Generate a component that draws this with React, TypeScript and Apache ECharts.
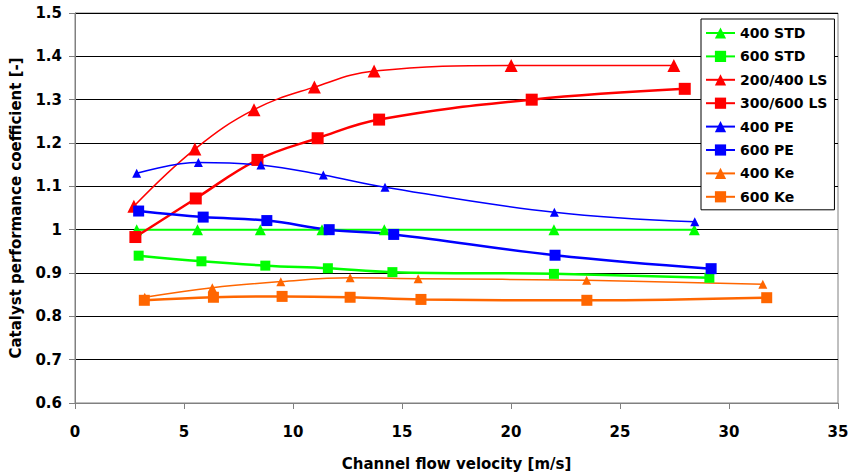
import React, { useEffect, useRef } from "react";
import * as echarts from "echarts";

// Tick settings
const xMin = 0;
const xMax = 35;
const xStep = 5;
const yMin = 0.6;
const yMax = 1.5;
const yStep = 0.1;

const xTitle = "Channel flow velocity [m/s]";
const yTitle = "Catalyst performance coefficient [-]";

const names = ["400 STD", "600 STD", "200/400 LS", "300/600 LS", "400 PE", "600 PE", "400 Ke", "600 Ke"];

const x400STD = [2.83, 5.62, 8.5, 11.33, 14.19, 21.97, 28.41];
const y400STD = [1.0, 1.0, 1.0, 1.0, 1.0, 1.0, 1.0];

const x600STD = [2.92, 5.8, 8.73, 11.6, 14.56, 21.97, 29.1];
const y600STD = [0.94, 0.927, 0.917, 0.911, 0.902, 0.898, 0.889];

const x200LS = [2.7, 5.5, 8.21, 10.98, 13.72, 20.01, 27.47];
const y200LS = [1.054, 1.186, 1.277, 1.329, 1.366, 1.379, 1.379];

const x300LS = [2.77, 5.54, 8.37, 11.13, 13.95, 20.95, 27.97];
const y300LS = [0.983, 1.072, 1.161, 1.211, 1.254, 1.3, 1.325];

const x400PE = [2.83, 5.66, 8.53, 11.39, 14.22, 21.99, 28.43];
const y400PE = [1.13, 1.155, 1.149, 1.126, 1.098, 1.04, 1.018];

const x600PE = [2.92, 5.88, 8.8, 11.66, 14.62, 22.02, 29.18];
const y600PE = [1.043, 1.029, 1.021, 1.0, 0.989, 0.941, 0.91];

const x400Ke = [3.2, 6.3, 9.44, 12.62, 15.74, 23.47, 31.55];
const y400Ke = [0.844, 0.866, 0.88, 0.889, 0.887, 0.883, 0.874];

const x600Ke = [3.18, 6.35, 9.5, 12.62, 15.87, 23.48, 31.73];
const y600Ke = [0.837, 0.844, 0.846, 0.844, 0.839, 0.837, 0.843];

const xs = [x400STD, x600STD, x200LS, x300LS, x400PE, x600PE, x400Ke, x600Ke];
const ys = [y400STD, y600STD, y200LS, y300LS, y400PE, y600PE, y400Ke, y600Ke];

const colors = ["#00FF00", "#00FF00", "#FF0000", "#FF0000", "#0000FF", "#0000FF", "#FF6600", "#FF6600"];
const symbols = ["triangle", "rect", "triangle", "rect", "triangle", "rect", "triangle", "rect"];
const symbolSizes = [11, 10, 13, 12, 9, 11, 9, 11];
const lineWidths = [2, 2.5, 1.5, 2.5, 1.5, 2.5, 1.5, 2.5];

const FONT = "DejaVu Sans";

export default function App() {
  const ref = useRef<HTMLDivElement>(null);
  useEffect(() => {
    if (!ref.current) return;
    const chart = echarts.init(ref.current, undefined, { renderer: "svg" });
    const series = names.map((name, i) => ({
      name,
      type: "line",
      data: xs[i].map((x, j) => [x, ys[i][j]]),
      smooth: 0.4,
      symbol: symbols[i],
      symbolSize: symbolSizes[i],
      showAllSymbol: true,
      lineStyle: { color: colors[i], width: lineWidths[i] },
      itemStyle: { color: colors[i], borderWidth: 0 },
      emphasis: { disabled: true },
    }));
    chart.setOption({
      animation: false,
      backgroundColor: "#ffffff",
      textStyle: { fontFamily: FONT },
      grid: {
        left: 72,
        right: 16,
        top: 13,
        bottom: 72,
        show: true,
        borderColor: "#808080",
        borderWidth: 1,
        backgroundColor: "transparent",
      },
      legend: {
        orient: "vertical",
        left: 701,
        top: 19,
        padding: [7, 7, 6, 4],
        itemWidth: 29,
        itemHeight: 14,
        itemGap: 9.4,
        itemStyle: { borderWidth: 0 },
        backgroundColor: "#ffffff",
        borderColor: "#000000",
        borderWidth: 1,
        borderRadius: 0,
        textStyle: { fontFamily: FONT, fontWeight: "bold", fontSize: 14, color: "#000" },
        data: names,
      },
      xAxis: {
        type: "value",
        min: xMin,
        max: xMax,
        interval: xStep,
        name: xTitle,
        nameLocation: "middle",
        nameGap: 53,
        nameTextStyle: { fontFamily: FONT, fontWeight: "bold", fontSize: 15, color: "#000" },
        axisLine: { show: true, lineStyle: { color: "#808080", width: 1 } },
        axisTick: { show: true, inside: false, length: 6, lineStyle: { color: "#808080" } },
        axisLabel: { margin: 21, fontFamily: FONT, fontWeight: "bold", fontSize: 15, color: "#000" },
        splitLine: { show: false },
      },
      yAxis: {
        type: "value",
        min: yMin,
        max: yMax,
        interval: yStep,
        name: yTitle,
        nameLocation: "middle",
        nameGap: 52,
        nameTextStyle: { fontFamily: FONT, fontWeight: "bold", fontSize: 15, color: "#000" },
        axisLine: { show: true, lineStyle: { color: "#808080", width: 1 } },
        axisTick: { show: true, inside: false, length: 6, lineStyle: { color: "#808080" } },
        axisLabel: {
          margin: 13,
          fontFamily: FONT,
          fontWeight: "bold",
          fontSize: 15,
          color: "#000",
          formatter: (v: number) => String(Math.round(v * 10) / 10),
        },
        splitLine: { show: true, lineStyle: { color: "#000000", width: 1 } },
      },
      series,
    });
    return () => chart.dispose();
  }, []);
  return (
    <div
      ref={ref}
      style={{ position: "absolute", left: 0, top: 0, width: 854, height: 476, background: "#fff" }}
    />
  );
}
